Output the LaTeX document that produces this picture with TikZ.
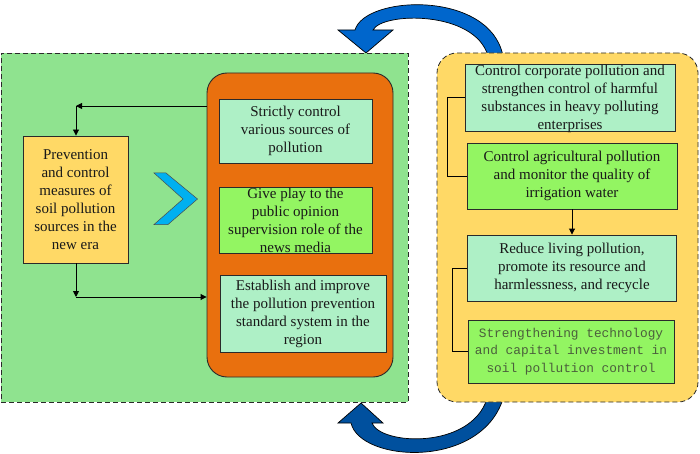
\documentclass[tikz,border=0pt]{standalone}
\usepackage{fontspec}
\setmainfont{Liberation Serif}
\setmonofont{Liberation Mono}
\usetikzlibrary{arrows.meta}
\definecolor{bggreen}{HTML}{8FE38F}
\definecolor{orng}{HTML}{E9700E}
\definecolor{mint}{HTML}{AEF0C6}
\definecolor{lime}{HTML}{93F562}
\definecolor{yel}{HTML}{FFD966}
\definecolor{chev}{HTML}{00B0F0}
\definecolor{blueA}{HTML}{0066CC}
\definecolor{blueB}{HTML}{00509E}
\definecolor{edgec}{HTML}{2A2A2A}
\definecolor{mtxt}{HTML}{4B5F3C}
\begin{document}
\begin{tikzpicture}[x=1pt,y=-1pt,
  frame/.style={draw=edgec, line width=0.8pt, dash pattern=on 5pt off 3pt},
  plainbox/.style={draw=edgec, line width=0.9pt, inner sep=0pt, rectangle},
  mintbox/.style={plainbox, fill=mint},
  limebox/.style={plainbox, fill=lime},
  txt/.style={align=center, inner sep=0pt, font=\fontsize{15}{18}\selectfont, text=black!90},
  mtx/.style={align=center, inner sep=0pt, font=\ttfamily\fontsize{12.8}{17.5}\selectfont, text=mtxt},
  conn/.style={draw=black, line width=0.9pt},
  tip/.style={conn, -{Triangle[length=6pt,width=6pt]}},
  bigarrow/.style={draw=black, line width=0.7pt}
]
\useasboundingbox (0,0) rectangle (700,454);

% curved arrows (drawn first, boxes lie over their ends)
\fill[blueA, bigarrow] (355,30) .. controls (365,-5) and (490,-10) .. (503,56)
  -- (488,56) .. controls (475,10) and (382,12) .. (373,30)
  -- (393,30) -- (366,53) -- (338,30) -- cycle;
\fill[blueB, bigarrow] (351,423) .. controls (360,462) and (480,470) .. (503,399)
  -- (487,399) .. controls (470,450) and (380,445) .. (372,423)
  -- (383,423) -- (361,403) -- (338,423) -- cycle;

% left panel
\node[frame, fill=bggreen, minimum width=407pt, minimum height=349pt, inner sep=0pt] (L) at (204.5,227.5) {};
\node[plainbox, fill=orng, rounded corners=20pt, minimum width=186pt, minimum height=304pt] (O) at (300,225) {};
\node[mintbox, minimum width=153pt, minimum height=64pt] (s1) at (295.5,131) {};
\node[txt] at (s1) {Strictly control\\various sources of\\pollution};
\node[limebox, minimum width=153pt, minimum height=66pt] (s2) at (295.5,220) {};
\node[txt] at (s2) {Give play to the\\public opinion\\supervision role of the\\news media};
\node[mintbox, minimum width=166pt, minimum height=77pt] (s3) at (303,313.5) {};
\node[txt] at (s3) {Establish and improve\\the pollution prevention\\standard system in the\\region};
\node[plainbox, fill=yel, minimum width=105pt, minimum height=127pt] (Y) at (75.5,199.5) {};
\node[txt] at (Y) {Prevention\\and control\\measures of\\soil pollution\\sources in the\\new era};
\fill[chev, draw=black!70, line width=0.5pt] (154,173) -- (166,173) -- (197.5,199) -- (168,224.5) -- (154,224.5) -- (183,199) -- cycle;

\coordinate (c1) at (76,106);
\coordinate (c2) at (76,297);
\draw[tip] (O.west |- c1) -- (c1);
\draw[tip] (c1) -- (Y.north -| c1);
\draw[tip] (Y.south -| c2) -- (c2);
\draw[tip] (c2) -- (O.west |- c2);

% right panel
\node[frame, fill=yel, rounded corners=20pt, minimum width=261pt, minimum height=349pt, inner sep=0pt] (R) at (567.5,227.5) {};
\node[mintbox, minimum width=210pt, minimum height=67pt] (r1) at (570,97.5) {};
\node[txt] at (570,98.5) {Control corporate pollution and\\strengthen control of harmful\\substances in heavy polluting\\enterprises};
\node[limebox, minimum width=210pt, minimum height=66pt] (r2) at (572,176) {};
\node[txt] at (r2) {Control agricultural pollution\\and monitor the quality of\\irrigation water};
\node[mintbox, minimum width=209pt, minimum height=66pt] (r3) at (572,268) {};
\node[txt] at (r3) {Reduce living pollution,\\promote its resource and\\harmlessness, and recycle};
\node[limebox, minimum width=206pt, minimum height=63pt] (r4) at (571,351.5) {};
\node[mtx] at (r4) {Strengthening technology\\and capital investment in\\soil pollution control};

\draw[conn] (r1.west) -- ++(-17,0) |- (r2.west);
\draw[tip] (r2.south) -- (r3.north);
\draw[conn] (r3.west) -- ++(-15,0) |- (r4.west);
\end{tikzpicture}
\end{document}
